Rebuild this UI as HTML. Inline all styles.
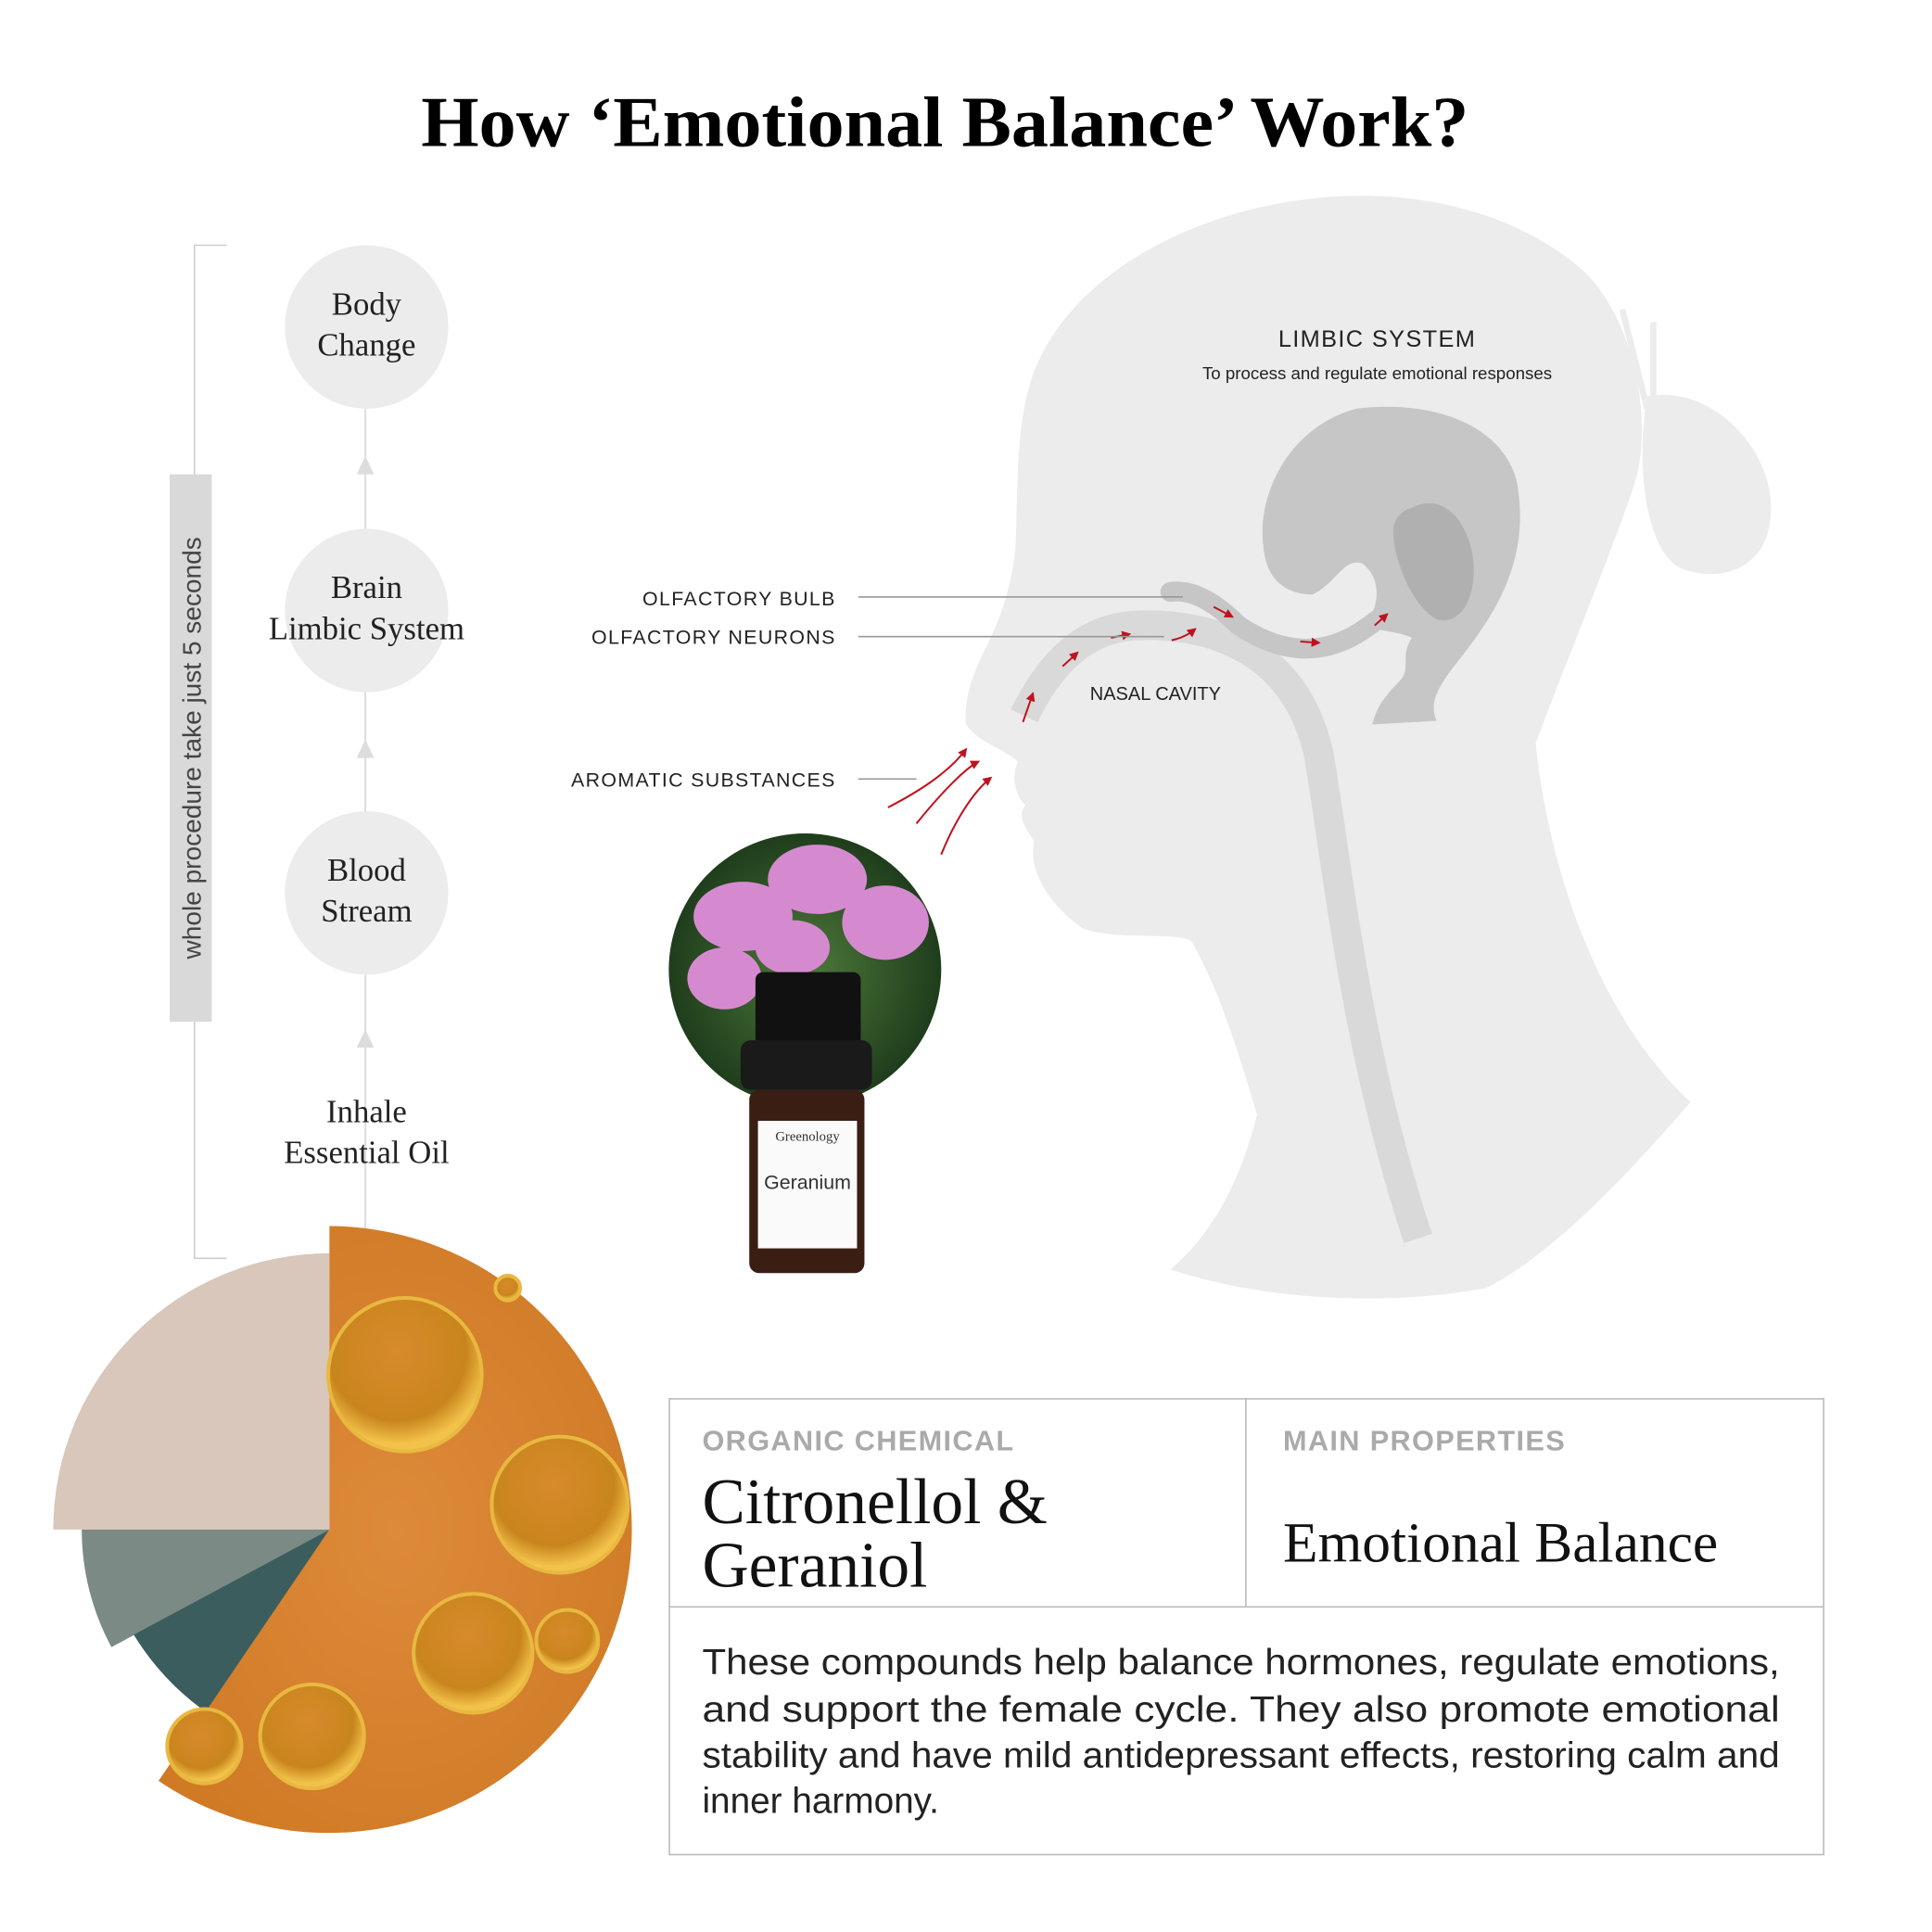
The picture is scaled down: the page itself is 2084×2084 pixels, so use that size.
<!DOCTYPE html>
<html><head><meta charset="utf-8"><style>
html,body{margin:0;padding:0;background:#fff;}
svg{display:block;}
</style></head><body>
<svg width="2084" height="2084" viewBox="0 0 1560 1560" xmlns="http://www.w3.org/2000/svg">
<defs>
<radialGradient id="oil" cx="0.5" cy="0.5" r="0.6"><stop offset="0" stop-color="#dd8a3a"/><stop offset="1" stop-color="#d07a25"/></radialGradient>
<radialGradient id="bub" cx="0.45" cy="0.35" r="0.6"><stop offset="0" stop-color="#d88a2c"/><stop offset="0.75" stop-color="#c9851d"/><stop offset="1" stop-color="#f2c24a"/></radialGradient>
<radialGradient id="flw" cx="0.5" cy="0.5" r="0.5"><stop offset="0" stop-color="#4d7a3a"/><stop offset="1" stop-color="#1f3d1c"/></radialGradient>
<clipPath id="fc"><circle cx="650" cy="783" r="110"/></clipPath>
<marker id="ah" viewBox="0 0 10 10" refX="8" refY="5" markerWidth="5" markerHeight="5" orient="auto"><path d="M0,0 L10,5 L0,10Z" fill="#c0121e"/></marker>
</defs>
<text x="763" y="118" text-anchor="middle" font-family="Liberation Serif, serif" font-weight="bold" font-size="58" fill="#000" textLength="846" lengthAdjust="spacingAndGlyphs">How ‘Emotional Balance’ Work?</text>

<!-- head -->
<path d="M1100,158 C990,158 870,210 835,300 C820,340 822,390 820,440 C818,470 808,500 795,525 C785,545 778,565 780,585 C790,600 812,605 822,615 C815,630 822,645 828,650 C820,660 830,670 835,680 C830,700 845,730 875,750 C905,760 950,752 962,760 C985,800 1000,850 1015,900 C1000,960 975,1000 945,1025 C1020,1050 1120,1055 1200,1040 C1260,1010 1330,930 1365,890 C1290,820 1250,700 1240,600 C1270,520 1300,450 1320,390 C1335,340 1320,260 1280,220 C1230,175 1160,158 1100,158 Z" fill="#ececec"/>
<path d="M1330,320 C1380,310 1430,360 1430,410 C1430,460 1390,470 1360,460 C1330,450 1320,380 1330,320Z" fill="#ececec"/>
<path d="M1330,330 L1310,250 M1335,320 L1335,260" stroke="#ececec" stroke-width="5" fill="none"/>
<!-- brain -->
<path d="M1095,330 C1040,345 1015,400 1020,440 C1022,470 1040,480 1060,480 C1080,470 1085,450 1100,455 C1120,470 1110,500 1100,505 C1115,510 1130,510 1140,515 C1130,530 1140,540 1130,550 C1110,570 1110,580 1108,585 L1160,582 C1150,560 1175,540 1195,510 C1230,460 1230,420 1225,390 C1215,345 1160,322 1095,330Z" fill="#c6c6c6"/>
<path d="M1140,410 C1170,395 1190,430 1190,460 C1190,490 1175,505 1160,500 C1140,490 1125,450 1125,430 C1125,420 1130,413 1140,410Z" fill="#b0b0b0"/>
<!-- nasal tube -->
<path d="M827,578 C860,510 900,503 935,505 C1000,508 1050,540 1065,610 C1080,700 1095,850 1145,1000" stroke="#d9d9d9" stroke-width="24" fill="none"/>
<path d="M945,478 C965,475 985,490 1000,505 C1030,525 1060,530 1090,515 C1110,505 1120,490 1135,490" stroke="#c6c6c6" stroke-width="16" fill="none" stroke-linecap="round"/>
<!-- red arrows -->
<g stroke="#c0121e" stroke-width="1.5" fill="none" marker-end="url(#ah)">
<path d="M826,583 L834,560"/><path d="M858,538 L870,527"/><path d="M897,515 L912,512"/><path d="M946,517 C955,515 960,512 965,508"/><path d="M980,490 L995,498"/><path d="M1050,518 L1065,519"/><path d="M1110,505 L1120,496"/>
<path d="M717,652 C740,640 765,625 780,605"/><path d="M740,665 C760,640 780,620 790,615"/><path d="M760,690 C770,665 785,640 800,628"/>
</g>
<g stroke="#999" stroke-width="1.2">
<line x1="693" y1="482" x2="955" y2="482"/><line x1="693" y1="514" x2="940" y2="514"/><line x1="693" y1="629" x2="740" y2="629"/>
</g>
<g font-family="Liberation Sans, sans-serif" fill="#222">
<text x="1112" y="280" text-anchor="middle" font-size="19" letter-spacing="1">LIMBIC SYSTEM</text>
<text x="1112" y="306" text-anchor="middle" font-size="14">To process and regulate emotional responses</text>
<text x="675" y="489" text-anchor="end" font-size="16" letter-spacing="1">OLFACTORY BULB</text>
<text x="675" y="520" text-anchor="end" font-size="16" letter-spacing="1">OLFACTORY NEURONS</text>
<text x="675" y="635" text-anchor="end" font-size="16" letter-spacing="1">AROMATIC SUBSTANCES</text>
<text x="933" y="565" text-anchor="middle" font-size="15">NASAL CAVITY</text>
</g>

<!-- left flow -->
<path d="M183,198 L157,198 L157,1016 L183,1016" stroke="#ccc" stroke-width="1.2" fill="none"/>
<rect x="137" y="383" width="34" height="442" fill="#d9d9d9"/>
<text transform="translate(162,604) rotate(-90)" text-anchor="middle" font-family="Liberation Sans, sans-serif" font-size="21" fill="#444">whole procedure take just 5 seconds</text>
<line x1="295" y1="330" x2="295" y2="1000" stroke="#ddd" stroke-width="1.5"/>
<g fill="#ddd"><path d="M288,383 L295,368 L302,383Z"/><path d="M288,612 L295,597 L302,612Z"/><path d="M288,846 L295,831 L302,846Z"/></g>
<g fill="#ececec"><circle cx="296" cy="264" r="66"/><circle cx="296" cy="493" r="66"/><circle cx="296" cy="721" r="66"/></g>
<g font-family="Liberation Serif, serif" font-size="26" fill="#222" text-anchor="middle">
<text x="296" y="254">Body</text><text x="296" y="287">Change</text>
<text x="296" y="483">Brain</text><text x="296" y="516">Limbic System</text>
<text x="296" y="711">Blood</text><text x="296" y="744">Stream</text>
<text x="296" y="906">Inhale</text><text x="296" y="939">Essential Oil</text>
</g>

<!-- flower + bottle -->
<circle cx="650" cy="783" r="110" fill="url(#flw)"/>
<g clip-path="url(#fc)" fill="#d58ad0">
<ellipse cx="600" cy="740" rx="40" ry="28"/><ellipse cx="660" cy="710" rx="40" ry="28"/><ellipse cx="715" cy="745" rx="35" ry="30"/><ellipse cx="585" cy="790" rx="30" ry="25"/><ellipse cx="640" cy="765" rx="30" ry="22"/>
</g>
<rect x="610" y="785" width="85" height="60" rx="6" fill="#111"/>
<rect x="598" y="840" width="106" height="40" rx="8" fill="#1a1a1a"/>
<rect x="605" y="880" width="93" height="148" rx="8" fill="#3a1e14"/>
<rect x="612" y="905" width="80" height="103" fill="#fafafa"/>
<text x="652" y="921" text-anchor="middle" font-family="Liberation Serif, serif" font-size="11" fill="#333">Greenology</text>
<text x="652" y="960" text-anchor="middle" font-family="Liberation Sans, sans-serif" font-size="16" fill="#333">Geranium</text>

<!-- pie -->
<path d="M266,1235 L43,1235 A223,223 0 0 1 266,1012 Z" fill="#d8c7ba"/>
<path d="M266,1235 L66,1235 A200,200 0 0 0 90,1330 Z" fill="#7b8a84"/>
<path d="M266,1235 L108,1320 A215,215 0 0 0 170,1385 Z" fill="#3c5d5e"/>
<path d="M266,1235 L266,990 A245,245 0 1 1 128,1438 Z" fill="url(#oil)"/>
<g fill="url(#bub)" stroke="#e8b840" stroke-width="3">
<circle cx="327" cy="1110" r="62"/><circle cx="452" cy="1215" r="55"/><circle cx="382" cy="1335" r="48"/><circle cx="252" cy="1402" r="42"/><circle cx="458" cy="1325" r="25"/><circle cx="165" cy="1410" r="30"/><circle cx="410" cy="1040" r="10"/>
</g>

<!-- table -->
<rect x="540.5" y="1129.5" width="932" height="368" fill="none" stroke="#bbb" stroke-width="1.2"/>
<line x1="1006" y1="1129" x2="1006" y2="1297" stroke="#bbb" stroke-width="1.2"/>
<line x1="540" y1="1297.5" x2="1472" y2="1297.5" stroke="#bbb" stroke-width="1.2"/>
<g font-family="Liberation Sans, sans-serif" font-weight="bold" font-size="23" fill="#aaa" letter-spacing="1">
<text x="567" y="1171">ORGANIC CHEMICAL</text><text x="1036" y="1171">MAIN PROPERTIES</text>
</g>
<g font-family="Liberation Serif, serif" font-size="52" fill="#111">
<text x="567" y="1230">Citronellol &amp;</text><text x="567" y="1281">Geraniol</text>
<text x="1036" y="1261" font-size="46">Emotional Balance</text>
</g>
<g font-family="Liberation Sans, sans-serif" font-size="29" fill="#222">
<text x="567" y="1352" textLength="870" lengthAdjust="spacingAndGlyphs">These compounds help balance hormones, regulate emotions,</text>
<text x="567" y="1390" textLength="870" lengthAdjust="spacingAndGlyphs">and support the female cycle. They also promote emotional</text>
<text x="567" y="1427" textLength="870" lengthAdjust="spacingAndGlyphs">stability and have mild antidepressant effects, restoring calm and</text>
<text x="567" y="1464">inner harmony.</text>
</g>
</svg>
</body></html>
